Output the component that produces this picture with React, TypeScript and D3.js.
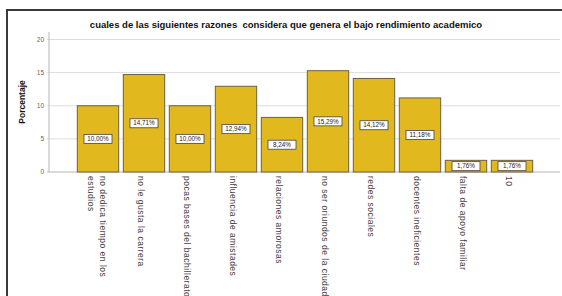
import React from 'react';
import * as d3 from 'd3';

// chart data
const title = 'cuales de las siguientes razones  considera que genera el bajo rendimiento academico';
const categories = [
  ['no dedica tiempo en los', 'estudios'],
  ['no le gusta la carrera'],
  ['pocas bases del bachillerato'],
  ['influencia de amistades'],
  ['relaciones amorosas'],
  ['no ser oriundos de la ciudad'],
  ['redes sociales'],
  ['docentes ineficientes'],
  ['falta de apoyo familiar'],
  ['10'],
];
const values = [10.0, 14.71, 10.0, 12.94, 8.24, 15.29, 14.12, 11.18, 1.76, 1.76];
const yTicks = [0, 5, 10, 15, 20];

const W = 562;
const H = 296;

export default function App() {
  const keys = categories.map((c, i) => String(i));
  const x = d3.scaleBand().domain(keys).range([52, 558]).paddingInner(0.1).paddingOuter(0.55);
  const y = d3.scaleLinear().domain([0, 20]).range([172, 39.5]);
  const fmt = (v: number) => v.toFixed(2).replace('.', ',') + '%';

  return (
    <svg width={W} height={H} style={{ position: 'absolute', left: 0, top: 0, background: '#fff' }}
      fontFamily="'Liberation Sans', Arial, sans-serif">
      {/* frame */}
      <path d={`M7,${H + 2} L7,10 L${W + 2},10`} fill="none" stroke="#3a3a3a" strokeWidth={2} />

      <text x={286} y={28} textAnchor="middle" fontSize={9.5} fontWeight="bold" fill="#111"
        style={{ whiteSpace: 'pre' }}>{title}</text>

      {/* grid + axis */}
      {yTicks.map(t => (
        <g key={t}>
          <line x1={47} x2={560} y1={y(t)} y2={y(t)} stroke={t === 0 ? '#b5b5b5' : '#dcdcdc'} strokeWidth={1} />
          <text x={44} y={y(t)} dy="0.35em" textAnchor="end" fontSize={6.5} fill="#666">{t}</text>
        </g>
      ))}
      <line x1={49} x2={49} y1={32} y2={172} stroke="#b5b5b5" strokeWidth={1} />
      <text transform={`translate(25,102) rotate(-90)`} textAnchor="middle" fontSize={8.5} fontWeight="bold" fill="#111">Porcentaje</text>

      {/* bars */}
      {values.map((v, i) => {
        const bx = x(String(i))!;
        const bw = x.bandwidth();
        const cy = y(v / 2);
        return (
          <g key={i}>
            <rect x={bx} y={y(v)} width={bw} height={y(0) - y(v)} fill="#e1b91e" stroke="#6a6143" strokeWidth={1} />
            <rect x={bx + bw / 2 - 14} y={cy - 4.5} width={28} height={9} fill="#fff" stroke="#444" strokeWidth={0.8} />
            <text x={bx + bw / 2} y={cy} dy="0.35em" textAnchor="middle" fontSize={6.3} fill="#222">{fmt(v)}</text>
          </g>
        );
      })}

      {/* category labels */}
      {categories.map((lines, i) => {
        const cx = x(String(i))! + x.bandwidth() / 2;
        const n = lines.length;
        return (
          <text key={i} transform={`translate(${cx},176) rotate(90)`} fontSize={8.5} letterSpacing={0.5} fill="#444">
            {lines.map((l, j) => (
              <tspan key={j} x={0} y={6 - (n - 1) * 8 + j * 12}>{l}</tspan>
            ))}
          </text>
        );
      })}
    </svg>
  );
}
